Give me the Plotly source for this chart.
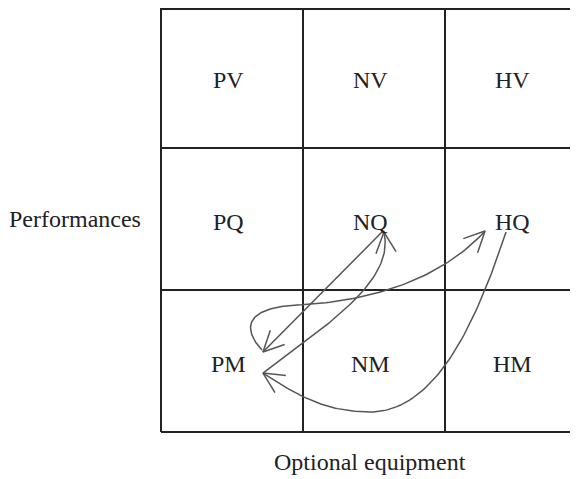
import numpy as np
import plotly.graph_objects as go

# ---- data ----
col_keys = ["P", "N", "H"]          # optional equipment: poor / normal / high
row_keys = ["M", "Q", "V"]          # performances (bottom to top)
x_title = "Optional equipment"
y_title = "Performances"

# arrows in grid units (column, row); each is a list of cubic Bezier segments
arrow_A = [[(1.563, 1.415), (1.563, 1.415), (0.718, 0.563), (0.718, 0.563)]]  # NQ -> PM (straight)
arrow_B = [[(0.718, 0.415), (1.190, 0.768), (1.648, 1.070), (1.570, 1.408)]]  # PM -> NQ
arrow_C = [[(0.711, 0.577), (0.592, 0.704), (0.556, 0.873), (0.958, 0.894)],
           [(0.958, 0.894), (1.542, 0.923), (2.000, 1.106), (2.282, 1.415)]]  # PM -> HQ (loop)
arrow_D = [[(2.430, 1.408), (2.246, 0.859), (1.965, 0.141), (1.472, 0.141)],
           [(1.472, 0.141), (1.120, 0.141), (0.908, 0.296), (0.718, 0.415)]]  # HQ -> PM
arrows = [arrow_A, arrow_B, arrow_C, arrow_D]

# ---- style ----
GRID = "#222222"
ARROW = "#555555"
FONT = "Liberation Serif, Times New Roman, serif"
PX = 142.0          # pixels per grid unit
W, H = 570, 471     # figure size (page has an 8px body margin)
X0, Y0 = 153, 424   # figure pixel of grid origin (bottom-left)
HEAD_LEN = 23 / PX
HEAD_ANG = np.deg2rad(26)

fig = go.Figure()

def bez(seg, n=60):
    p = np.array(seg)
    t = np.linspace(0, 1, n)[:, None]
    return ((1 - t) ** 3) * p[0] + 3 * ((1 - t) ** 2) * t * p[1] + 3 * (1 - t) * t ** 2 * p[2] + t ** 3 * p[3]

for arr in arrows:
    pts = np.vstack([bez(s) for s in arr])
    fig.add_trace(go.Scatter(x=pts[:, 0], y=pts[:, 1], mode="lines",
                             line=dict(color=ARROW, width=1.5), hoverinfo="skip", showlegend=False))
    tip = pts[-1]
    prev = pts[-6]
    d = prev - tip
    d = d / np.linalg.norm(d)
    ends = []
    for s in (1, -1):
        a = s * HEAD_ANG
        r = np.array([d[0] * np.cos(a) - d[1] * np.sin(a), d[0] * np.sin(a) + d[1] * np.cos(a)])
        ends.append(tip + r * HEAD_LEN)
    hx = [ends[0][0], tip[0], ends[1][0]]
    hy = [ends[0][1], tip[1], ends[1][1]]
    fig.add_trace(go.Scatter(x=hx, y=hy, mode="lines",
                             line=dict(color=ARROW, width=1.5), hoverinfo="skip", showlegend=False))

# grid lines
shapes = []
for i in range(4):
    shapes.append(dict(type="line", xref="x", yref="y", x0=i, x1=i, y0=0, y1=3,
                       line=dict(color=GRID, width=2), layer="below"))
    if i < 3:
        shapes.append(dict(type="line", xref="x", yref="y", x0=0, x1=3, y0=i, y1=i,
                           line=dict(color=GRID, width=2), layer="below"))
# top border (sits at the very top edge of the figure)
shapes.append(dict(type="line", xref="x", yref="paper", x0=0, x1=3, y0=1 - 1 / H, y1=1 - 1 / H,
                   line=dict(color=GRID, width=2), layer="below"))

annotations = []
for ci, c in enumerate(col_keys):
    for ri, r in enumerate(row_keys):
        annotations.append(dict(x=ci + 0.5, y=ri + 0.5, xref="x", yref="y", text=c + r,
                                showarrow=False, xshift=-4, yshift=-3,
                                font=dict(family=FONT, size=24, color="#222222")))
annotations.append(dict(x=-0.606, y=1.5, xref="x", yref="y", text=y_title, showarrow=False,
                        font=dict(family=FONT, size=24, color="#222222")))
annotations.append(dict(x=1.472, y=-0.211, xref="x", yref="y", text=x_title, showarrow=False,
                        font=dict(family=FONT, size=24, color="#222222")))

fig.update_layout(
    width=W, height=H,
    margin=dict(l=0, r=0, t=0, b=0),
    paper_bgcolor="white", plot_bgcolor="white",
    xaxis=dict(range=[-X0 / PX, (W - X0) / PX], visible=False, fixedrange=True),
    yaxis=dict(range=[-(H - Y0) / PX, Y0 / PX], visible=False, fixedrange=True),
    shapes=shapes, annotations=annotations, showlegend=False,
)

fig.write_html("out.html")
